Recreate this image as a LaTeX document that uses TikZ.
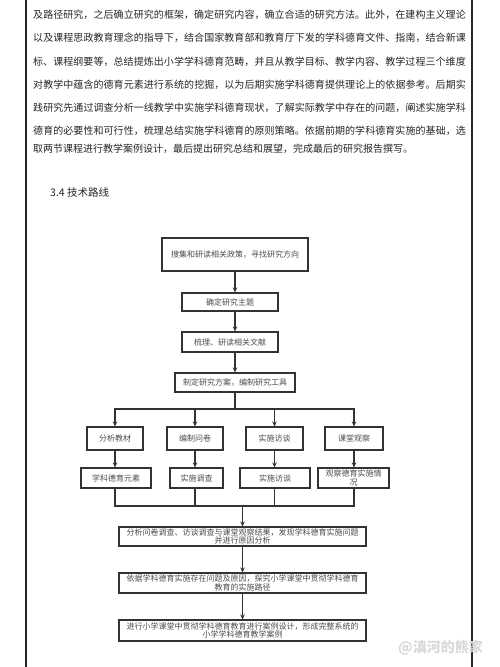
\documentclass[tikz,border=0pt]{standalone}
\usepackage{fontspec}
\newfontfamily\cjk{Noto Sans CJK SC}
\usetikzlibrary{arrows.meta}
\XeTeXlinebreaklocale "zh"
\XeTeXlinebreakskip=0pt plus 1pt minus 0.4pt
\begin{document}
\begin{tikzpicture}[x=1pt,y=-1pt,
  bodyline/.style={anchor=west, text width=434pt, inner sep=0pt, font=\cjk\fontsize{10}{12}\selectfont, text=black!85, execute at begin node={\parfillskip=0pt}},
  lastline/.style={anchor=west, inner sep=0pt, font=\cjk\fontsize{10}{12}\selectfont, text=black!85},
  pageline/.style={draw=black!85, line width=1.1pt},
  box/.style={draw=black!80, line width=1.1pt, fill=white, inner sep=0pt, font=\cjk\fontsize{8}{8.5}\selectfont, text=black!70, align=center},
  conn/.style={draw=black!80, line width=1.1pt},
  arr/.style={conn, -{Stealth[length=5pt,width=4.5pt]}}
]
\useasboundingbox (0,0) rectangle (500,667);
\fill[white] (0,0) rectangle (500,667);
\draw[pageline] (26,0) -- (26,667);
\draw[pageline] (472,0) -- (472,667);

% body text
\node[bodyline] (t1) at (33,15) {及路径研究，之后确立研究的框架，确定研究内容，确立合适的研究方法。此外，在建构主义理论};
\node[bodyline] (t2) at (33,38) {以及课程思政教育理念的指导下，结合国家教育部和教育厅下发的学科德育文件、指南，结合新课};
\node[bodyline] (t3) at (33,62) {标、课程纲要等，总结提炼出小学学科德育范畴，并且从教学目标、教学内容、教学过程三个维度};
\node[bodyline] (t4) at (33,85) {对教学中蕴含的德育元素进行系统的挖掘，以为后期实施学科德育提供理论上的依据参考。后期实};
\node[bodyline] (t5) at (33,108) {践研究先通过调查分析一线教学中实施学科德育现状，了解实际教学中存在的问题，阐述实施学科};
\node[bodyline] (t6) at (33,131) {德育的必要性和可行性，梳理总结实施学科德育的原则策略。依据前期的学科德育实施的基础，选};
\node[lastline] (t7) at (33,149) {取两节课程进行教学案例设计，最后提出研究总结和展望，完成最后的研究报告撰写。};

\node[lastline, font=\cjk\fontsize{10.5}{12}\selectfont] (head) at (50,193) {3.4 技术路线};

% flowchart
\node[box, minimum width=146pt, minimum height=33pt] (n1) at (235,254.5) {搜集和研读相关政策，寻找研究方向};
\node[box, minimum width=96pt, minimum height=18pt] (n2) at (230,302) {确定研究主题};
\node[box, minimum width=96pt, minimum height=20pt] (n3) at (230,342) {梳理、研读相关文献};
\node[box, minimum width=120pt, minimum height=19pt] (n4) at (235,382.5) {制定研究方案，编制研究工具};

\node[box, minimum width=56pt, minimum height=23pt] (a1) at (115,438.5) {分析教材};
\node[box, minimum width=56pt, minimum height=23pt] (a2) at (195,438.5) {编制问卷};
\node[box, minimum width=57pt, minimum height=23pt] (a3) at (274.5,438.5) {实施访谈};
\node[box, minimum width=58pt, minimum height=23pt] (a4) at (354,438.5) {课堂观察};

\node[box, minimum width=70pt, minimum height=20pt] (b1) at (116,478) {学科德育元素};
\node[box, minimum width=53pt, minimum height=20pt] (b2) at (196.5,478) {实施调查};
\node[box, minimum width=70pt, minimum height=20pt] (b3) at (275,478) {实施访谈};
\node[box, minimum width=71pt, minimum height=20pt] (b4) at (353.5,478) {观察德育实施情\\况};

\node[box, minimum width=247pt, minimum height=19pt] (c1) at (242.5,536.5) {分析问卷调查、访谈调查与课堂观察结果，发现学科德育实施问题\\并进行原因分析};
\node[box, minimum width=247pt, minimum height=20pt] (c2) at (242.5,583) {依据学科德育实施存在问题及原因，探究小学课堂中贯彻学科德育\\教育的实施路径};
\node[box, minimum width=247pt, minimum height=21pt] (c3) at (242.5,630.5) {进行小学课堂中贯彻学科德育教育进行案例设计，形成完整系统的\\小学学科德育教学案例};

\node[lastline, font=\cjk\bfseries\fontsize{14}{14}\selectfont, text=black!15] (wm) at (398,648) {@滇河的熊家};

\coordinate (split) at (235,409);
\coordinate (merge) at (242.5,506);

\draw[arr] (n1.south) -- (n1.south |- n2.north);
\draw[arr] (n1.south |- n2.south) -- (n1.south |- n3.north);
\draw[arr] (n1.south |- n3.south) -- (n4.north);
\draw[conn] (n4.south) -- (split);
\draw[arr] (split) -| (a1.north);
\draw[arr] (split) -| (a2.north);
\draw[arr] (split) -| (a3.north);
\draw[arr] (split) -| (a4.north);
\draw[arr] (a1.south) -- (a1.south |- b1.north);
\draw[arr] (a2.south) -- (a2.south |- b2.north);
\draw[arr] (a3.south) -- (a3.south |- b3.north);
\draw[arr] (a4.south) -- (a4.south |- b4.north);
\draw[conn] (a1.south |- b1.south) |- (merge);
\draw[conn] (a2.south |- b2.south) |- (merge);
\draw[conn] (a3.south |- b3.south) |- (merge);
\draw[conn] (a4.south |- b4.south) |- (merge);
\draw[arr] (merge) -- (c1.north);
\draw[arr] (c1.south) -- (c2.north);
\draw[arr] (c2.south) -- (c3.north);
\end{tikzpicture}
\end{document}
